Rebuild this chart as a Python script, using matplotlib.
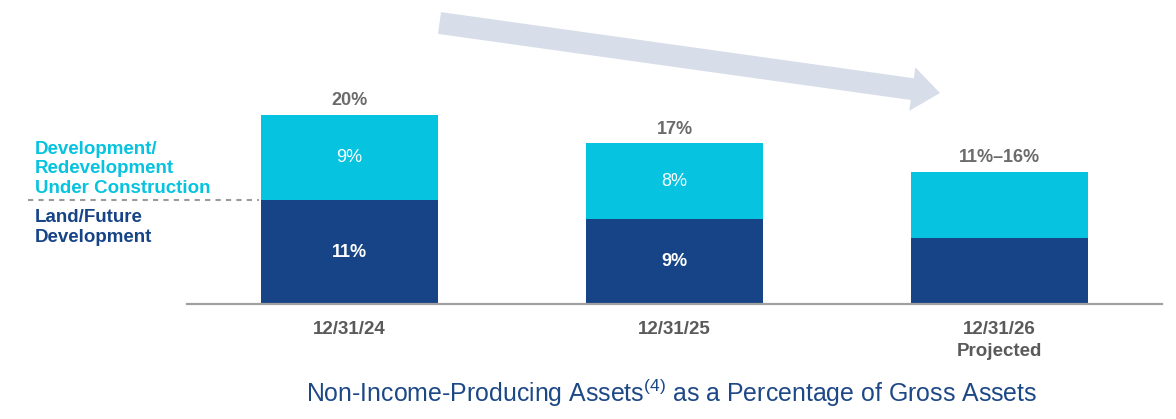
import matplotlib
matplotlib.use("Agg")
import matplotlib.pyplot as plt
from matplotlib.patches import FancyArrow

plt.rcParams['font.family'] = ['Liberation Sans', 'DejaVu Sans']
plt.rcParams['mathtext.fontset'] = 'custom'
plt.rcParams['mathtext.rm'] = 'Liberation Sans'

# data
categories = ['12/31/24', '12/31/25', '12/31/26\nProjected']
land = [11, 9, 7]
construction = [9, 8, 7]
totals = ['20%', '17%', '11%\u201316%']
land_labels = ['11%', '9%', '']
construction_labels = ['9%', '8%', '']

navy = '#164487'
cyan = '#06c3e0'
grey_text = '#5a5a5a'

W, H = 1176, 419
fig = plt.figure(figsize=(W / 100, H / 100), dpi=100)

# main axes: baseline at y=304px, x from 187 to 1162px
base_px = 304
px_per_pct = 9.45
ymax = 25
top_px = base_px - px_per_pct * ymax
ax = fig.add_axes([187 / W, (H - base_px) / H, (1162 - 187) / W, (base_px - top_px) / H])
ax.set_facecolor('none')

x = range(len(categories))
ax.bar(x, land, width=0.545, color=navy)
ax.bar(x, construction, width=0.545, bottom=land, color=cyan)

for i in x:
    if land_labels[i]:
        ax.text(i, land[i] / 2, land_labels[i], ha='center', va='center',
                color='white', fontsize=13, fontweight='bold')
    if construction_labels[i]:
        ax.text(i, land[i] + construction[i] / 2, construction_labels[i], ha='center',
                va='center', color='white', fontsize=13)
    ax.annotate(totals[i], (i, land[i] + construction[i]), xytext=(0, 4),
                textcoords='offset points', ha='center', va='bottom',
                color='#6b6b6b', fontsize=13, fontweight='bold')

ax.set_xlim(-0.5, 2.5)
ax.set_ylim(0, ymax)
for s in ['top', 'right', 'left']:
    ax.spines[s].set_visible(False)
ax.spines['bottom'].set_color('#a0a0a0')
ax.spines['bottom'].set_linewidth(1.6)
ax.set_yticks([])
ax.set_xticks(list(x))
ax.set_xticklabels(categories, fontsize=13.5, fontweight='bold', color=grey_text,
                   linespacing=1.4)
ax.tick_params(axis='x', length=0, pad=12)

# overlay in pixel coordinates for the side labels, dashed line, arrow and title
ov = fig.add_axes([0, 0, 1, 1], zorder=-1)
ov.set_xlim(0, W)
ov.set_ylim(H, 0)
ov.axis('off')

ov.add_patch(FancyArrow(439.5, 23, 500.5, 70, width=22, head_width=44, head_length=28,
                        length_includes_head=True, color='#d8dee9', lw=0))

ov.plot([28, 259], [200, 200], color='#9a9a9a', lw=1.5, ls=(0, (2.5, 2.5)))
ov.text(35, 193, 'Development/\nRedevelopment\nUnder Construction', ha='left', va='baseline',
        color=cyan, fontsize=13.5, fontweight='bold', linespacing=1.2)
ov.text(35, 209, 'Land/Future\nDevelopment', ha='left', va='top',
        color=navy, fontsize=13.5, fontweight='bold', linespacing=1.2)

ov.text(672, 393, r'Non-Income-Producing Assets$^{\mathrm{(4)}}$ as a Percentage of Gross Assets',
        ha='center', va='center', color='#1d4886', fontsize=17.9)

fig.savefig('out.png', dpi=100)
